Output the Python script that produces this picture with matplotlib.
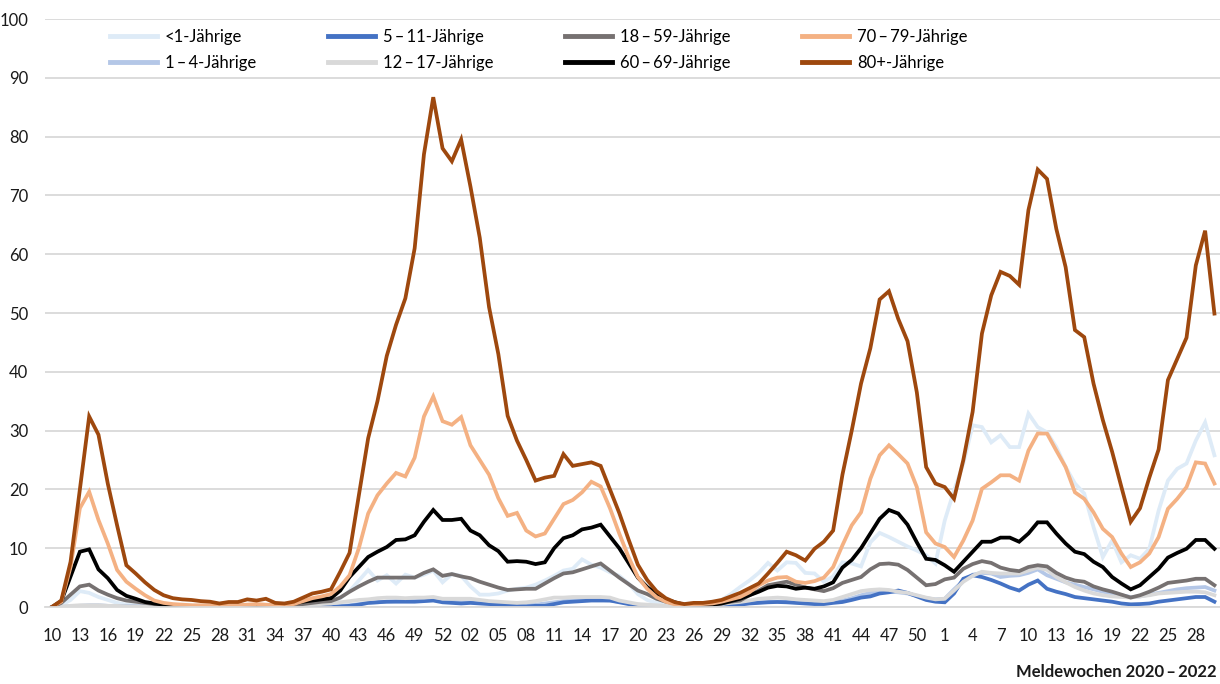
import numpy as np
import matplotlib
matplotlib.use("Agg")
import matplotlib.pyplot as plt

plt.rcParams['font.family'] = ['Lato', 'DejaVu Sans']

# Meldewochen 2020 KW10 .. 2022 KW30 (126 Wochen), Werte je Altersgruppe
u1 = [0, 0.3, 1.2, 2.7, 2.4, 1.7, 1.2, 0.7, 0.4, 0.3,
      0.2, 0.2, 0.1, 0.1, 0.1, 0.1, 0.1, 0.0, 0.1, 0.1,
      0.1, 0.1, 0.2, 0.1, 0.1, 0.1, 0.2, 0.3, 0.4, 0.5,
      0.6, 1.5, 2.7, 4.5, 6.3, 4.5, 5.4, 4.0, 5.5, 5.0,
      5.5, 6.2, 4.2, 5.6, 5.3, 3.5, 2.1, 2.1, 2.3, 2.8,
      3.1, 3.3, 3.8, 4.5, 5.3, 6.2, 6.5, 8.1, 7.2, 6.7,
      5.9, 5.3, 4.0, 2.2, 1.2, 0.7, 0.4, 0.2, 0.1, 0.1,
      0.3, 0.6, 1.2, 2.2, 3.4, 4.5, 5.8, 7.5, 6.2, 7.6,
      7.5, 5.8, 5.7, 4.3, 5.2, 7.6, 7.4, 6.9, 11.0, 12.6,
      11.9, 11.1, 10.3, 9.6, 8.8, 7.4, 14.7, 19.8, 24.4, 30.9,
      30.6, 28.0, 29.2, 27.2, 27.2, 32.9, 30.6, 29.7, 27.2, 23.8,
      21.0, 19.3, 13.6, 8.5, 11.3, 7.6, 8.8, 8.2, 9.9, 16.4,
      21.5, 23.5, 24.4, 28.3, 31.4, 25.8]

a1_4 = [0, 0, 0.1, 0.2, 0.3, 0.3, 0.2, 0.1, 0.1, 0.1,
        0.1, 0.1, 0.05, 0.05, 0.05, 0.05, 0.05, 0.05, 0.05, 0.05,
        0.05, 0.05, 0.05, 0.05, 0.05, 0.05, 0.05, 0.1, 0.1, 0.1,
        0.1, 0.2, 0.3, 0.5, 0.7, 0.8, 0.9, 1.0, 1.0, 1.0,
        1.1, 1.2, 1.0, 0.9, 0.8, 0.8, 0.7, 0.6, 0.5, 0.4,
        0.3, 0.3, 0.4, 0.6, 0.8, 1.0, 1.1, 1.2, 1.2, 1.2,
        1.1, 0.9, 0.6, 0.4, 0.25, 0.15, 0.1, 0.05, 0.05, 0.05,
        0.1, 0.2, 0.3, 0.4, 0.5, 0.7, 0.8, 0.9, 0.9, 0.9,
        0.8, 0.7, 0.7, 0.7, 0.9, 1.1, 1.5, 2.0, 2.4, 2.6,
        2.6, 2.5, 2.3, 1.9, 1.5, 1.3, 1.4, 3.0, 4.5, 5.5,
        5.8, 5.7, 5.1, 5.3, 5.4, 5.8, 6.4, 5.4, 4.8, 4.2,
        3.8, 3.4, 3.0, 2.6, 2.3, 2.0, 1.7, 1.8, 2.1, 2.4,
        2.7, 3.0, 3.2, 3.3, 3.4, 2.8]

a5_11 = [0, 0, 0, 0.05, 0.05, 0.05, 0.05, 0.05, 0.05, 0.05,
         0.05, 0.05, 0.05, 0.05, 0.05, 0.05, 0.05, 0.05, 0.05, 0.05,
         0.05, 0.05, 0.05, 0.05, 0.05, 0.05, 0.05, 0.05, 0.05, 0.05,
         0.0, 0.1, 0.2, 0.4, 0.7, 0.8, 0.9, 0.9, 0.9, 0.9,
         1.0, 1.1, 0.8, 0.7, 0.6, 0.7, 0.6, 0.5, 0.4, 0.3,
         0.2, 0.1, 0.2, 0.2, 0.5, 0.8, 0.9, 1.0, 1.1, 1.1,
         1.1, 0.8, 0.5, 0.3, 0.2, 0.1, 0.05, 0.0, 0.0, 0.0,
         0.1, 0.2, 0.3, 0.3, 0.4, 0.6, 0.7, 0.8, 0.85, 0.8,
         0.7, 0.6, 0.5, 0.5, 0.7, 0.85, 1.2, 1.6, 1.8, 2.3,
         2.5, 2.8, 2.4, 1.8, 1.2, 0.9, 0.8, 2.3, 4.8, 5.4,
         5.1, 4.6, 4.0, 3.3, 2.8, 3.8, 4.5, 3.1, 2.6, 2.2,
         1.7, 1.5, 1.3, 1.1, 0.9, 0.6, 0.45, 0.5, 0.6, 0.9,
         1.1, 1.3, 1.5, 1.7, 1.7, 0.9]

a12_17 = [0, 0.1, 0.2, 0.3, 0.3, 0.3, 0.2, 0.2, 0.1, 0.1,
          0.1, 0.1, 0.1, 0.1, 0.1, 0.1, 0.1, 0.1, 0.1, 0.1,
          0.1, 0.1, 0.1, 0.1, 0.1, 0.1, 0.2, 0.3, 0.4, 0.5,
          0.6, 0.8, 1.0, 1.2, 1.3, 1.5, 1.6, 1.6, 1.5, 1.6,
          1.6, 1.7, 1.4, 1.4, 1.4, 1.4, 1.2, 1.0, 0.9, 0.8,
          0.7, 0.8, 1.0, 1.3, 1.6, 1.6, 1.7, 1.7, 1.7, 1.7,
          1.6, 1.1, 0.8, 0.5, 0.4, 0.3, 0.2, 0.15, 0.1, 0.1,
          0.2, 0.3, 0.5, 0.7, 0.85, 1.1, 1.4, 1.5, 1.6, 1.5,
          1.3, 1.2, 1.1, 1.0, 1.2, 1.7, 2.2, 2.7, 2.9, 3.0,
          2.9, 2.6, 2.4, 2.0, 1.6, 1.3, 1.4, 2.8, 4.3, 5.3,
          6.0, 5.8, 5.7, 5.7, 5.7, 6.2, 6.7, 6.3, 5.1, 4.2,
          3.4, 2.8, 2.3, 2.0, 1.8, 1.7, 1.6, 1.8, 2.0, 2.3,
          2.4, 2.5, 2.6, 2.6, 2.5, 2.0]

a18_59 = [0, 0.7, 2.1, 3.5, 3.8, 2.8, 2.1, 1.5, 1.1, 0.9,
          0.7, 0.5, 0.3, 0.2, 0.2, 0.1, 0.1, 0.1, 0.1, 0.1,
          0.1, 0.2, 0.2, 0.2, 0.1, 0.1, 0.3, 0.5, 0.7, 0.9,
          1.0, 1.6, 2.6, 3.5, 4.3, 5.0, 5.0, 5.0, 5.0, 5.0,
          5.8, 6.4, 5.3, 5.6, 5.2, 4.9, 4.3, 3.8, 3.3, 2.9,
          3.0, 3.1, 3.1, 4.0, 4.9, 5.7, 5.9, 6.4, 6.9, 7.4,
          6.2, 5.0, 3.9, 2.8, 2.2, 1.4, 0.9, 0.6, 0.3, 0.1,
          0.2, 0.4, 0.6, 0.9, 1.1, 2.0, 2.8, 3.7, 4.0, 4.3,
          3.8, 3.3, 3.0, 2.7, 3.2, 4.1, 4.6, 5.1, 6.4, 7.3,
          7.4, 7.2, 6.3, 5.0, 3.7, 3.9, 4.7, 5.0, 6.5, 7.3,
          7.8, 7.5, 6.7, 6.3, 6.1, 6.8, 7.1, 6.9, 5.8, 5.0,
          4.5, 4.3, 3.5, 3.0, 2.6, 2.1, 1.6, 2.0, 2.6, 3.3,
          4.1, 4.3, 4.5, 4.8, 4.8, 3.7]

a60_69 = [0, 1.0, 5.2, 9.4, 9.8, 6.4, 4.9, 2.9, 1.9, 1.4,
          0.85, 0.6, 0.4, 0.3, 0.2, 0.2, 0.1, 0.1, 0.1, 0.2,
          0.2, 0.3, 0.3, 0.3, 0.2, 0.2, 0.6, 0.9, 1.1, 1.3,
          1.5, 2.8, 5.1, 6.8, 8.5, 9.4, 10.2, 11.4, 11.5, 12.2,
          14.5, 16.5, 14.8, 14.8, 15.0, 13.0, 12.2, 10.5, 9.5, 7.7,
          7.8, 7.7, 7.3, 7.6, 10.0, 11.7, 12.2, 13.2, 13.5, 14.0,
          12.0, 10.0, 7.5, 5.0, 3.4, 2.2, 1.3, 0.8, 0.4, 0.15,
          0.2, 0.4, 0.6, 1.0, 1.4, 2.0, 2.6, 3.3, 3.6, 3.5,
          3.1, 3.3, 3.1, 3.5, 4.2, 6.7, 8.0, 10.0, 12.5, 15.0,
          16.5, 15.9, 14.0, 11.0, 8.2, 8.0, 7.1, 6.0, 7.7, 9.4,
          11.1, 11.1, 11.8, 11.8, 11.1, 12.5, 14.4, 14.4, 12.5, 10.8,
          9.4, 9.0, 7.7, 6.8, 5.1, 4.0, 3.0, 3.7, 5.1, 6.5,
          8.4, 9.2, 9.9, 11.4, 11.4, 9.9]

a70_79 = [0, 0.9, 6.8, 16.8, 19.6, 14.8, 10.8, 6.3, 4.3, 3.1,
          2.0, 1.1, 0.7, 0.5, 0.4, 0.3, 0.3, 0.3, 0.2, 0.3,
          0.3, 0.4, 0.5, 0.4, 0.3, 0.3, 0.5, 1.0, 1.5, 1.8,
          2.2, 3.5, 5.4, 10.0, 15.9, 19.0, 21.0, 22.8, 22.2, 25.4,
          32.4, 35.8, 31.6, 31.0, 32.3, 27.5, 25.0, 22.5, 18.5, 15.5,
          16.0, 13.0, 12.0, 12.5, 15.0, 17.5, 18.2, 19.5, 21.3, 20.5,
          16.8, 12.5, 8.5, 5.1, 3.1, 1.7, 0.9, 0.45, 0.3, 0.45,
          0.5, 0.6, 0.9, 1.3, 1.7, 2.5, 3.7, 4.5, 5.0, 5.1,
          4.3, 4.1, 4.4, 5.0, 6.8, 10.5, 13.9, 16.1, 21.8, 25.8,
          27.5, 26.0, 24.4, 20.4, 12.7, 10.8, 10.2, 8.5, 11.3, 14.7,
          20.1, 21.2, 22.4, 22.4, 21.5, 26.6, 29.5, 29.5, 26.6, 23.8,
          19.5, 18.4, 16.1, 13.3, 11.9, 9.1, 6.8, 7.6, 9.1, 11.9,
          16.7, 18.4, 20.4, 24.6, 24.4, 21.0]

a80 = [0, 1.1, 7.7, 20.0, 32.4, 29.3, 21.0, 13.9, 7.1, 5.7,
       4.2, 2.9, 2.0, 1.5, 1.3, 1.2, 1.0, 0.9, 0.6, 0.85,
       0.85, 1.3, 1.1, 1.4, 0.7, 0.6, 0.9, 1.6, 2.3, 2.6,
       3.0, 6.0, 9.2, 19.0, 28.7, 35.0, 42.7, 48.0, 52.5, 61.0,
       77.0, 86.7, 78.0, 75.8, 79.5, 71.5, 62.8, 51.0, 43.0, 32.5,
       28.3, 25.0, 21.5, 22.0, 22.3, 26.0, 24.0, 24.3, 24.6, 24.0,
       20.0, 16.0, 11.5, 7.2, 4.6, 2.7, 1.5, 0.8, 0.5, 0.7,
       0.7, 0.9, 1.2, 1.8, 2.4, 3.2, 4.0, 5.7, 7.5, 9.4,
       8.8, 7.9, 9.9, 11.1, 13.0, 22.5, 30.0, 38.0, 44.0, 52.3,
       53.7, 49.0, 45.2, 36.5, 23.8, 21.0, 20.4, 18.4, 25.0, 33.2,
       46.5, 53.0, 57.0, 56.3, 54.8, 67.5, 74.4, 72.8, 64.3, 57.8,
       47.1, 45.9, 38.0, 31.8, 26.4, 20.4, 14.5, 16.8, 22.0, 26.8,
       38.6, 42.2, 45.8, 58.1, 64.0, 49.9]

week_labels = ['10', '13', '16', '19', '22', '25', '28', '31', '34', '37', '40',
               '43', '46', '49', '52', '02', '05', '08', '11', '14', '17', '20',
               '23', '26', '29', '32', '35', '38', '41', '44', '47', '50', '1',
               '4', '7', '10', '13', '16', '19', '22', '25', '28']

series = [
    ('<1-Jährige', u1, '#DEEBF7'),
    ('1\u2009–\u20094-Jährige', a1_4, '#B4C7E7'),
    ('5\u2009–\u200911-Jährige', a5_11, '#4472C4'),
    ('12\u2009–\u200917-Jährige', a12_17, '#D9D9D9'),
    ('18\u2009–\u200959-Jährige', a18_59, '#767171'),
    ('60\u2009–\u200969-Jährige', a60_69, '#000000'),
    ('70\u2009–\u200979-Jährige', a70_79, '#F4B183'),
    ('80+-Jährige', a80, '#9E480E'),
]

fig = plt.figure(figsize=(12.2, 6.84), dpi=100)
ax = fig.add_axes([45 / 1220, 77 / 684, 1175 / 1220, 588 / 684])

x = np.arange(len(a80))
for label, vals, col in series:
    ax.plot(x, vals, color=col, lw=2.7, label=label, solid_joinstyle='miter')

ax.set_xlim(-0.75, 125.6)
ax.set_ylim(0, 100)
ax.set_yticks(range(0, 101, 10))
ax.set_xticks(np.arange(0, 126, 3))
ax.set_xticklabels(week_labels)
ax.tick_params(axis='both', length=0, labelsize=12, colors='#1a1a1a')
ax.tick_params(axis='y', pad=12)
ax.tick_params(axis='x', pad=15)
ax.grid(axis='y', color='#D9D9D9', lw=1.3)
ax.set_axisbelow(True)
for s in ['top', 'right', 'left']:
    ax.spines[s].set_visible(False)
ax.spines['bottom'].set_color('#D9D9D9')
ax.spines['bottom'].set_linewidth(1.3)

leg = fig.legend(loc='upper left', bbox_to_anchor=(110 / 1220, 1 - 29 / 684),
                 ncol=4, frameon=False, fontsize=12, handlelength=2.8,
                 handletextpad=0.5, columnspacing=4.3, labelspacing=0.6,
                 borderpad=0, borderaxespad=0)
for line in leg.get_lines():
    line.set_linewidth(3.5)

fig.text(1217 / 1220, 1 - 672 / 684, 'Meldewochen 2020\u2009–\u20092022',
         ha='right', va='center', fontsize=12, fontweight='bold', color='#1a1a1a')

fig.savefig('out.png', dpi=100)
